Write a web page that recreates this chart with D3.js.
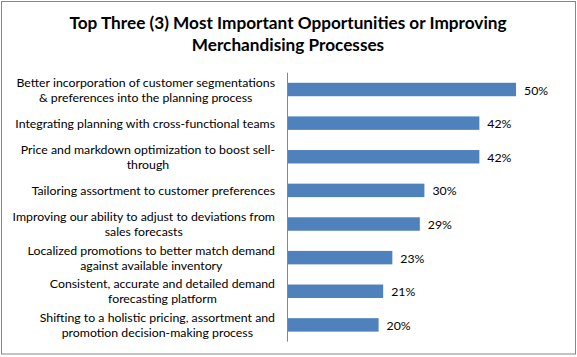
<!DOCTYPE html>
<html>
<head>
<meta charset="utf-8">
<script src="https://cdn.jsdelivr.net/npm/d3@7"></script>
<style>
  html, body { margin: 0; padding: 0; background: #fff; }
  svg { display: block; }
</style>
</head>
<body>
<svg id="chart" width="577" height="357"></svg>
<script>
const titleLines = ["Top Three (3) Most Important Opportunities or Improving", "Merchandising Processes"];
const categories = [
  ["Better incorporation of customer segmentations", "& preferences into the planning process"],
  ["Integrating planning with cross-functional teams"],
  ["Price and markdown optimization to boost sell-", "through"],
  ["Tailoring assortment to customer preferences"],
  ["Improving our ability to adjust to deviations from", "sales forecasts"],
  ["Localized promotions to better match demand", "against available inventory"],
  ["Consistent, accurate and detailed demand", "forecasting platform"],
  ["Shifting to a holistic pricing, assortment and", "promotion decision-making process"]
];
const values = [50, 42, 42, 30, 29, 23, 21, 20];

const W = 577, H = 357;
const svg = d3.select("#chart");
const font = "Lato, 'Open Sans', sans-serif";

// border
svg.append("rect").attr("x", 1.5).attr("y", 1.5).attr("width", W - 3).attr("height", H - 4.5)
  .attr("fill", "#fff").attr("stroke", "#868686").attr("stroke-width", 1);

// title
svg.append("g").selectAll("text").data(titleLines).join("text")
  .attr("x", 288).attr("y", (d, i) => 28.5 + i * 22)
  .attr("text-anchor", "middle")
  .attr("font-family", font).attr("font-weight", "bold").attr("font-size", 17.2)
  .attr("fill", "#000").text(d => d);

const x0 = 287, y0 = 72.7, y1 = 341.7;
const x = d3.scaleLinear().domain([0, 50]).range([x0, 516]);
const y = d3.scaleBand().domain(d3.range(categories.length)).range([y0, y1]).paddingInner(0.6).paddingOuter(0.3);

// bars
svg.append("g").selectAll("rect").data(values).join("rect")
  .attr("x", x(0)).attr("y", (d, i) => y(i))
  .attr("width", d => x(d) - x(0)).attr("height", y.bandwidth())
  .attr("fill", "#4F81BD");

// axis line
const yAxis = d3.axisLeft(y).tickSize(0).tickFormat("");
const ag = svg.append("g").attr("transform", `translate(${x0},0)`).call(yAxis);
ag.select(".domain").attr("stroke", "#868686").attr("d", `M0.5,${y0}V${y1}`);

// value labels
svg.append("g").selectAll("text").data(values).join("text")
  .attr("x", d => x(d) + 8).attr("y", (d, i) => y(i) + y.bandwidth() / 2 + 0.5)
  .attr("dominant-baseline", "central")
  .attr("font-family", font).attr("font-size", 12.3).attr("fill", "#000")
  .text(d => d + "%");

// category labels: block right-aligned at 275, lines centered within block
const labelRight = 275, lineH = 15;
const lg = svg.append("g");
categories.forEach((lines, i) => {
  const cy = y(i) + y.bandwidth() / 2;
  const g = lg.append("g");
  const texts = g.selectAll("text").data(lines).join("text")
    .attr("y", (d, j) => cy + (j - (lines.length - 1) / 2) * lineH)
    .attr("dominant-baseline", "central")
    .attr("text-anchor", "middle")
    .attr("font-family", font).attr("font-size", 12.3).attr("fill", "#000")
    .text(d => d);
  let maxW = 0;
  texts.each(function() { maxW = Math.max(maxW, this.getComputedTextLength()); });
  texts.attr("x", labelRight - maxW / 2);
});
</script>
</body>
</html>
